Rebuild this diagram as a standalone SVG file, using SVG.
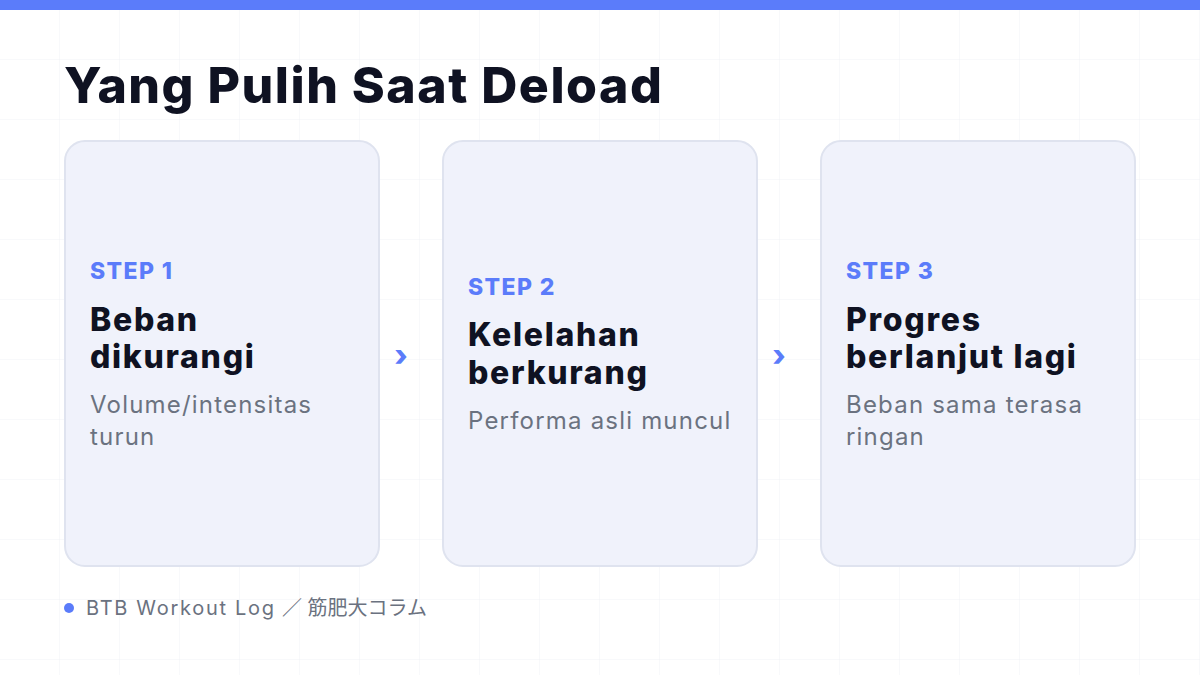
<svg xmlns="http://www.w3.org/2000/svg" width="1200" height="675" viewBox="0 0 1200 675">
<defs>
<pattern id="grid" width="60" height="60" patternUnits="userSpaceOnUse">
<path d="M60 0V60M0 60H60" fill="none" stroke="#f1f2f6" stroke-width="1"/>
</pattern>
<style>
.card{fill:#f0f2fb;stroke:#dfe3ef;stroke-width:2}
.step{font-family:Inter,"Liberation Sans",sans-serif;font-weight:800;font-size:23px;fill:#5b7cfa;letter-spacing:1.4px}
.head{font-family:Inter,"Liberation Sans",sans-serif;font-weight:800;font-size:32px;fill:#0f1222;letter-spacing:1.7px}
.desc{font-family:Inter,"Liberation Sans",sans-serif;font-weight:400;font-size:24px;fill:#6b7280;letter-spacing:1.2px}
.arrow{font-family:Inter,"Liberation Sans",sans-serif;font-weight:800;font-size:30px;fill:#5b7cfa}
</style>
</defs>
<rect width="1200" height="675" fill="#ffffff"/>
<rect width="1200" height="675" fill="url(#grid)"/>
<rect width="1200" height="10" fill="#5b7cfa"/>
<text x="64" y="103" font-family="Inter,'Liberation Sans',sans-serif" font-weight="800" font-size="50" fill="#0f1222" letter-spacing="1.5">Yang Pulih Saat Deload</text>
<g id="node1">
<rect class="card" x="65" y="141" width="314" height="425" rx="20"/>
<text class="step" x="90" y="279">STEP 1</text>
<text class="head" x="90" y="331">Beban</text>
<text class="head" x="90" y="368">dikurangi</text>
<text class="desc" x="90" y="413">Volume/intensitas</text>
<text class="desc" x="90" y="445">turun</text>
</g>
<g id="node2">
<rect class="card" x="443" y="141" width="314" height="425" rx="20"/>
<text class="step" x="468" y="295">STEP 2</text>
<text class="head" x="468" y="346">Kelelahan</text>
<text class="head" x="468" y="384">berkurang</text>
<text class="desc" x="468" y="429">Performa asli muncul</text>
</g>
<g id="node3">
<rect class="card" x="821" y="141" width="314" height="425" rx="20"/>
<text class="step" x="846" y="279">STEP 3</text>
<text class="head" x="846" y="331">Progres</text>
<text class="head" x="846" y="368">berlanjut lagi</text>
<text class="desc" x="846" y="413">Beban sama terasa</text>
<text class="desc" x="846" y="445">ringan</text>
</g>
<g id="connectors">
<text class="arrow" x="401" y="366" text-anchor="middle">›</text>
<text class="arrow" x="779" y="366" text-anchor="middle">›</text>
</g>
<g id="footer">
<circle cx="69" cy="608" r="5" fill="#5b7cfa"/>
<text x="86" y="615" font-family="Inter,'Liberation Sans','Noto Sans CJK JP',sans-serif" font-size="20" fill="#6b7280"><tspan letter-spacing="1.7">BTB Workout Log </tspan><tspan x="282">／ 筋肥大コラム</tspan></text>
</g>
</svg>
